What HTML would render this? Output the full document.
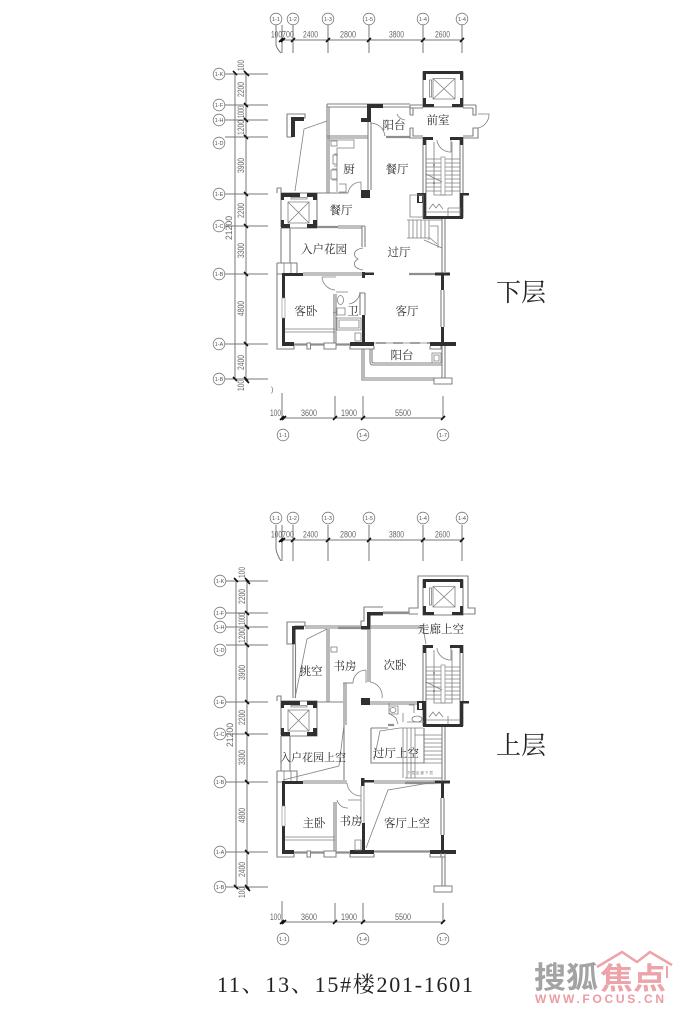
<!DOCTYPE html>
<html><head><meta charset="utf-8"><style>
html,body{margin:0;padding:0;background:#fff}
svg{display:block;filter:blur(.3px)}
.w{fill:#303030}
.g{fill:none;stroke:#808080;stroke-width:1.1}
.h{fill:none;stroke:#8e8e8e;stroke-width:2.2}
.t{fill:none;stroke:#808080;stroke-width:.8}
.o{fill:#fff;stroke:#808080;stroke-width:1}
.d{fill:none;stroke:#777;stroke-width:1}
.k{stroke:#111;stroke-width:1.6}
.b{fill:#fff;stroke:#777;stroke-width:.8}
text{font-family:"Liberation Sans","Noto Sans CJK SC",sans-serif}
.n{font-size:9px;fill:#666}
.c{font-size:5.5px;fill:#555;text-anchor:middle}
.r{font-family:"Noto Serif CJK SC","Noto Sans CJK SC",serif;font-size:11.5px;fill:#2c2c2c;text-anchor:middle}
.m{font-family:"Noto Serif CJK SC","Noto Sans CJK SC",serif;font-size:25px;fill:#222}
</style></head><body>
<svg width="693" height="1024" viewBox="0 0 693 1024" xmlns="http://www.w3.org/2000/svg">
<defs>
<g id="topElev">
<path class="g" d="M423 72H463V107H423Z"/>
<path class="w" d="M423 71H463V74H460V80H463V74H426V80H423Z"/>
<rect class="w" x="460" y="71" width="3" height="9"/>
<rect class="w" x="423" y="98" width="3" height="9"/><rect class="w" x="460" y="98" width="3" height="9"/>
<rect class="w" x="423" y="104" width="11" height="3"/><rect class="w" x="452" y="104" width="11" height="3"/>
<path class="t" d="M433 78.5H455V99H433ZM433 78.5L455 99M455 78.5L433 99"/>
<rect class="t" x="429.5" y="80" width="2" height="17"/>
</g>
<g id="stairs">
<path class="g" d="M423 137V218M426 140V216M460 140V216M463 137V218"/>
<rect class="w" x="423" y="137" width="10" height="3"/><rect class="w" x="450" y="137" width="13" height="3"/>
<rect class="w" x="423" y="137" width="3" height="8"/><rect class="w" x="460" y="137" width="3" height="8"/>
<rect class="w" x="423" y="193" width="3" height="26"/><rect class="w" x="460" y="193" width="3" height="26"/>
<rect class="w" x="423" y="216" width="40" height="3"/><rect class="w" x="460" y="193" width="9" height="2.5"/>
<path class="t" d="M426 159H460M426 163H460M426 167H460M426 171H460M426 175H460M426 179H460M426 183H460M426 187H460M426 191H460"/>
<rect x="441" y="157" width="4" height="38" fill="#fff" stroke="#888" stroke-width=".7"/>
<path class="t" d="M434 142V195H452V142M426 174L442 182"/>
<path class="t" d="M437 140V141A14 14 0 0 0 451 152V140"/>
<path class="t" d="M426 212H460M448 208V216M429 209L433 204L436 208L439 204L443 209"/>
<circle cx="434" cy="165" r=".8" fill="#444"/><circle cx="434" cy="183" r=".8" fill="#444"/>
</g>
<g id="leftElev">
<path class="g" d="M277 188H281V227M277 188V193M281 193H317V228H281"/>
<rect class="w" x="281" y="193" width="19" height="4"/><rect class="w" x="307" y="193" width="10" height="4"/>
<rect class="w" x="281" y="193" width="3" height="7"/><rect class="w" x="313" y="193" width="4" height="7"/>
<rect class="w" x="281" y="220" width="3" height="8"/><rect class="w" x="313" y="220" width="4" height="8"/>
<rect class="w" x="281" y="224" width="9" height="4"/><rect class="w" x="307" y="224" width="10" height="4"/>
<path class="t" d="M288 202H309V223H288ZM288 202L309 223M309 202L288 223M291 197.500H307V199H291Z"/>
<path class="g" d="M281 228V263M290 228V263M277 263H297V274H277"/>
<path class="t" d="M284 263V274M291 263V274"/>
</g>
<g id="shell">
<path class="g" d="M277 263V349H294V346M277 349H294"/>
<rect class="w" x="282" y="274" width="3" height="71"/><rect x="282" y="298" width="3" height="20" fill="#fff" stroke="#888" stroke-width=".6"/>
<rect class="w" x="282" y="273" width="21" height="3"/>
<rect class="w" x="282" y="342" width="12" height="4"/>
<path class="h" d="M294 344.500H350"/>
<rect class="o" x="307" y="343" width="3.500" height="6"/><rect class="o" x="324" y="343" width="12" height="6"/>
<rect class="w" x="350" y="342" width="24" height="4"/><path class="g" d="M350 346V349H374V346"/>
<rect class="w" x="362" y="315" width="3" height="28"/>
<rect class="w" x="430" y="342" width="26" height="4"/><path class="g" d="M430 346V349H441V346"/>
<rect class="w" x="441" y="275" width="3" height="15"/><rect class="w" x="441" y="327" width="3" height="16"/>
<path class="g" d="M441 290V327M444 290V327"/>
<rect class="w" x="435" y="272.500" width="15" height="3"/>
<path class="t" d="M285 329H335M285 332H335"/>
<path class="g" d="M334 343V294M336 343V294"/>
</g>
</defs>

<!-- ============ LOWER FLOOR ============ -->
<path class="d" d="M276 25V45Q277 49 281 53M282 25V53M293 25V53M328 25V53M369 25V53M423 25V53M462 25V53M281 40H462"/>
<path class="k" d="M279 42L283 38M281 42L285 38M291 42L295 38M326 42L330 38M367 42L371 38M421 42L425 38M460 42L464 38"/>
<circle class="b" cx="276" cy="19" r="5.800"/><circle class="b" cx="293" cy="19" r="5.800"/><circle class="b" cx="328" cy="19" r="5.800"/><circle class="b" cx="369" cy="19" r="5.800"/><circle class="b" cx="423" cy="19" r="5.800"/><circle class="b" cx="462" cy="19" r="5.800"/>
<text class="c" x="276" y="21">1-1</text><text class="c" x="293" y="21">1-2</text><text class="c" x="328" y="21">1-3</text><text class="c" x="369" y="21">1-5</text><text class="c" x="423" y="21">1-4</text><text class="c" x="462" y="21">1-4</text>
<text class="n" x="271" y="37.500" textLength="11" lengthAdjust="spacingAndGlyphs">100</text><text class="n" x="282" y="37.500" textLength="12" lengthAdjust="spacingAndGlyphs">700</text>
<text class="n" x="303" y="37.500" textLength="15" lengthAdjust="spacingAndGlyphs">2400</text><text class="n" x="340" y="37.500" textLength="16" lengthAdjust="spacingAndGlyphs">2800</text><text class="n" x="389" y="37.500" textLength="15" lengthAdjust="spacingAndGlyphs">3800</text><text class="n" x="435" y="37.500" textLength="15" lengthAdjust="spacingAndGlyphs">2600</text>
<path class="d" d="M235 72V379M246 72V379"/>
<path class="d" d="M225 74H268M225 105H268M225 120H268M225 137H268M225 194H268M225 226H268M225 274H268M225 344H268M225 379H268"/>
<path class="k" d="M233 71L237 75M244 71L248 75M245 72L249 76M244 103L248 107M244 118L248 122M244 135L248 139M244 192L248 196M244 224L248 228M244 272L248 276M244 342L248 346M233 377L237 381M244 377L248 381M245 379L249 383"/>
<circle class="b" cx="219" cy="74" r="5.800"/><circle class="b" cx="219" cy="105" r="5.800"/><circle class="b" cx="219" cy="120" r="5.800"/><circle class="b" cx="219" cy="143" r="5.800"/><circle class="b" cx="219" cy="194" r="5.800"/><circle class="b" cx="219" cy="226" r="5.800"/><circle class="b" cx="219" cy="274" r="5.800"/><circle class="b" cx="219" cy="344" r="5.800"/><circle class="b" cx="219" cy="379" r="5.800"/>
<text class="c" x="219" y="76">1-K</text><text class="c" x="219" y="107">1-F</text><text class="c" x="219" y="122">1-H</text><text class="c" x="219" y="145">1-D</text><text class="c" x="219" y="196">1-E</text><text class="c" x="219" y="228">1-C</text><text class="c" x="219" y="276">1-B</text><text class="c" x="219" y="346">1-A</text><text class="c" x="219" y="381">1-B</text>
<g class="n">
<text transform="translate(244,71) rotate(-90)" textLength="11" lengthAdjust="spacingAndGlyphs">100</text>
<text transform="translate(244,97) rotate(-90)" textLength="15" lengthAdjust="spacingAndGlyphs">2200</text>
<text transform="translate(244,118) rotate(-90)" textLength="12" lengthAdjust="spacingAndGlyphs">1000</text>
<text transform="translate(244,135) rotate(-90)" textLength="15" lengthAdjust="spacingAndGlyphs">1200</text>
<text transform="translate(244,173) rotate(-90)" textLength="15" lengthAdjust="spacingAndGlyphs">3900</text>
<text transform="translate(244,218) rotate(-90)" textLength="15" lengthAdjust="spacingAndGlyphs">2200</text>
<text transform="translate(232,240) rotate(-90)" textLength="24" lengthAdjust="spacingAndGlyphs">21200</text>
<text transform="translate(244,258) rotate(-90)" textLength="15" lengthAdjust="spacingAndGlyphs">3300</text>
<text transform="translate(244,316) rotate(-90)" textLength="15" lengthAdjust="spacingAndGlyphs">4800</text>
<text transform="translate(244,370) rotate(-90)" textLength="15" lengthAdjust="spacingAndGlyphs">2400</text>
<text transform="translate(244,391) rotate(-90)" textLength="11" lengthAdjust="spacingAndGlyphs">100</text>
</g>
<path class="d" d="M282 393V418M335 396V418M363 396V418M443 396V418M281 418H443"/>
<path class="k" d="M280 420L284 416M282 420L286 416M333 420L337 416M361 420L365 416M441 420L445 416"/>
<circle class="b" cx="283" cy="435" r="5.800"/><circle class="b" cx="363" cy="435" r="5.800"/><circle class="b" cx="443" cy="435" r="5.800"/>
<text class="c" x="283" y="437">1-1</text><text class="c" x="363" y="437">1-4</text><text class="c" x="443" y="437">1-7</text>
<text class="n" x="270" y="416" textLength="11" lengthAdjust="spacingAndGlyphs">100</text><text class="n" x="301" y="416" textLength="16" lengthAdjust="spacingAndGlyphs">3600</text><text class="n" x="341" y="416" textLength="16" lengthAdjust="spacingAndGlyphs">1900</text><text class="n" x="395" y="416" textLength="16" lengthAdjust="spacingAndGlyphs">5500</text>
<text x="271" y="392" font-size="7" fill="#666">)</text>

<use href="#topElev"/>
<path class="g" d="M410 105H423M463 105H476M410 108H423M463 108H473M410 105V115M413 108V115H410M473 108V115H476V105M410 128H413V136H423M410 128V138H423M463 136H473V128H478V138H463"/>
<path class="t" d="M478 114H489A14 14 0 0 1 478 128"/>
<path class="g" d="M327 104H410M327 107H367M383 107H410"/>
<path class="g" d="M327 104V193M329 107V193M327 136H368M327 138H368"/>
<rect class="w" x="367" y="104" width="16" height="4"/><rect class="w" x="367" y="104" width="4" height="18"/><rect class="w" x="361" y="118" width="10" height="4"/>
<path class="t" d="M397 114Q399 119 405 120M371 123Q383 124 385 136"/>
<path class="h" d="M386 137H410"/>
<path class="g" d="M287 114H305V118H292V137H287Z"/>
<rect class="w" x="291" y="117" width="13" height="4"/><rect class="w" x="291" y="117" width="4" height="20"/>
<path class="t" d="M327 121L304 129L295 191"/>
<path class="g" d="M368 122V190M371 122V190"/>
<rect class="w" x="361" y="190" width="9" height="8"/>
<path class="t" d="M348 193A13 13 0 0 1 361 182M361 182V190"/>
<path class="g" d="M317 193H348"/>
<path class="t" d="M329 140H354V148H337V192M338 155H337M334 154H337V166H334M332 169H337V180H332M339 184H346V192H339"/>
<rect class="t" x="331" y="141" width="6" height="5"/><rect class="t" x="333" y="155" width="4" height="9"/><rect class="t" x="331" y="170" width="6" height="9"/>
<use href="#stairs"/>
<rect class="w" x="417" y="193" width="6" height="10"/><rect x="419" y="196" width="3" height="6" fill="#fff"/>
<path class="t" d="M410 195H423V217H410ZM448 208H460V216"/>
<path class="t" d="M407 220H442M409 220V238M413 220V238M417 220V238M421 220V238M425 220V238M429 220V240M407 238H430L437 244M430 226H438V248M424 240L442 248"/>
<path class="g" d="M442 219V274M445 219V272"/>
<use href="#leftElev"/>
<path class="h" d="M317 227H338"/><path class="g" d="M338 226H365M338 228H362M362 226V247M365 226V247"/>
<path class="t" d="M363 248C352 250 353 256 358 259C353 262 352 268 363 270"/>
<use href="#shell"/>
<path class="g" d="M303 273H362M303 275H362"/>
<rect class="w" x="362" y="272" width="3" height="6"/><rect class="w" x="365" y="272.500" width="9" height="2.500"/>
<path class="h" d="M409 274H435"/>
<path class="g" d="M360 293H365M360 293V315M365 293V315"/>
<path class="t" d="M322 277H336M322 277A14 14 0 0 0 335 290M336 292H348M360 292A13 13 0 0 1 349 304"/>
<ellipse class="t" cx="340.500" cy="300" rx="3" ry="4.500"/><path class="t" d="M337 308H345V315H337ZM337 311.500L333 313"/><path class="t" d="M337 318H361V330H337ZM339 320H359V328H339ZM355 333H361V341H355Z"/>
<path class="t" d="M374 343H430"/><path d="M376 343H430" stroke="#444" stroke-width="1" stroke-dasharray="10 7" fill="none"/>
<path class="g" d="M370 349V362Q370 365 373 365H442M372 349V362Q372 363 374 363H441"/>
<path class="g" d="M362 349V380H434M364 349V378H434"/>
<rect class="o" x="434" y="378" width="18" height="6"/>
<path class="g" d="M442 346V378M445 346V378"/>
<path class="t" d="M432 353H441V363H432ZM434 355H439V361H434Z"/>

<text class="r" x="394" y="129">阳台</text><text class="r" x="438" y="124">前室</text><text class="r" x="349" y="173">厨</text><text class="r" x="397" y="173">餐厅</text><text class="r" x="341" y="214">餐厅</text><text class="r" x="324" y="253">入户花园</text><text class="r" x="399" y="256">过厅</text><text class="r" x="306" y="315">客卧</text><text class="r" x="353" y="315">卫</text><text class="r" x="407" y="315">客厅</text><text class="r" x="402" y="359">阳台</text>
<text class="m" x="496" y="301">下层</text>

<!-- ============ UPPER FLOOR ============ -->
<path class="d" d="M276 525V549Q277 555 281 561M282 525V561M293 525V561M328 525V561M369 525V561M423 525V561M462 525V561M281 540H462"/>
<path class="k" d="M279 542L283 538M281 542L285 538M291 542L295 538M326 542L330 538M367 542L371 538M421 542L425 538M460 542L464 538"/>
<circle class="b" cx="276" cy="518" r="5.800"/><circle class="b" cx="293" cy="518" r="5.800"/><circle class="b" cx="328" cy="518" r="5.800"/><circle class="b" cx="369" cy="518" r="5.800"/><circle class="b" cx="423" cy="518" r="5.800"/><circle class="b" cx="462" cy="518" r="5.800"/>
<text class="c" x="276" y="520">1-1</text><text class="c" x="293" y="520">1-2</text><text class="c" x="328" y="520">1-3</text><text class="c" x="369" y="520">1-5</text><text class="c" x="423" y="520">1-4</text><text class="c" x="462" y="520">1-4</text>
<text class="n" x="271" y="537.500" textLength="11" lengthAdjust="spacingAndGlyphs">100</text><text class="n" x="282" y="537.500" textLength="12" lengthAdjust="spacingAndGlyphs">700</text>
<text class="n" x="303" y="537.500" textLength="15" lengthAdjust="spacingAndGlyphs">2400</text><text class="n" x="340" y="537.500" textLength="16" lengthAdjust="spacingAndGlyphs">2800</text><text class="n" x="389" y="537.500" textLength="15" lengthAdjust="spacingAndGlyphs">3800</text><text class="n" x="435" y="537.500" textLength="15" lengthAdjust="spacingAndGlyphs">2600</text>
<path class="d" d="M236 579V887M247 579V887"/>
<path class="d" d="M226 581H268M226 613H268M226 627H268M226 645H268M226 702H268M226 734H268M226 782H268M226 852H268M226 887H268"/>
<path class="k" d="M234 578L238 582M245 578L249 582M246 580L250 584M245 611L249 615M245 625L249 629M245 643L249 647M245 700L249 704M245 732L249 736M245 780L249 784M245 850L249 854M234 885L238 889M245 885L249 889M246 887L250 891"/>
<circle class="b" cx="220" cy="581" r="5.800"/><circle class="b" cx="220" cy="613" r="5.800"/><circle class="b" cx="220" cy="627" r="5.800"/><circle class="b" cx="220" cy="650" r="5.800"/><circle class="b" cx="220" cy="702" r="5.800"/><circle class="b" cx="220" cy="734" r="5.800"/><circle class="b" cx="220" cy="782" r="5.800"/><circle class="b" cx="220" cy="852" r="5.800"/><circle class="b" cx="220" cy="887" r="5.800"/>
<text class="c" x="220" y="583">1-K</text><text class="c" x="220" y="615">1-F</text><text class="c" x="220" y="629">1-H</text><text class="c" x="220" y="652">1-D</text><text class="c" x="220" y="704">1-E</text><text class="c" x="220" y="736">1-C</text><text class="c" x="220" y="784">1-B</text><text class="c" x="220" y="854">1-A</text><text class="c" x="220" y="889">1-B</text>
<g class="n">
<text transform="translate(245,578) rotate(-90)" textLength="11" lengthAdjust="spacingAndGlyphs">100</text>
<text transform="translate(245,604) rotate(-90)" textLength="15" lengthAdjust="spacingAndGlyphs">2200</text>
<text transform="translate(245,625) rotate(-90)" textLength="12" lengthAdjust="spacingAndGlyphs">1000</text>
<text transform="translate(245,643) rotate(-90)" textLength="15" lengthAdjust="spacingAndGlyphs">1200</text>
<text transform="translate(245,680) rotate(-90)" textLength="15" lengthAdjust="spacingAndGlyphs">3900</text>
<text transform="translate(245,725) rotate(-90)" textLength="15" lengthAdjust="spacingAndGlyphs">2200</text>
<text transform="translate(233,747) rotate(-90)" textLength="24" lengthAdjust="spacingAndGlyphs">21200</text>
<text transform="translate(245,765) rotate(-90)" textLength="15" lengthAdjust="spacingAndGlyphs">3300</text>
<text transform="translate(245,823) rotate(-90)" textLength="15" lengthAdjust="spacingAndGlyphs">4800</text>
<text transform="translate(245,877) rotate(-90)" textLength="15" lengthAdjust="spacingAndGlyphs">2400</text>
<text transform="translate(245,898) rotate(-90)" textLength="11" lengthAdjust="spacingAndGlyphs">100</text>
</g>
<path class="d" d="M282 901V922M335 903V922M363 903V922M443 903V922M281 922H443"/>
<path class="k" d="M280 924L284 920M282 924L286 920M333 924L337 920M361 924L365 920M441 924L445 920"/>
<circle class="b" cx="283" cy="939" r="5.800"/><circle class="b" cx="363" cy="939" r="5.800"/><circle class="b" cx="443" cy="939" r="5.800"/>
<text class="c" x="283" y="941">1-1</text><text class="c" x="363" y="941">1-4</text><text class="c" x="443" y="941">1-7</text>
<text class="n" x="270" y="920" textLength="11" lengthAdjust="spacingAndGlyphs">100</text><text class="n" x="301" y="920" textLength="16" lengthAdjust="spacingAndGlyphs">3600</text><text class="n" x="341" y="920" textLength="16" lengthAdjust="spacingAndGlyphs">1900</text><text class="n" x="395" y="920" textLength="16" lengthAdjust="spacingAndGlyphs">5500</text>

<use href="#topElev" y="508"/>
<path class="g" d="M409 614V608H418V576H468V608H475V614H463M418 614H409"/>
<path class="g" d="M361 626V621H364V607H383M383 612H409"/><path class="h" d="M383 613H409"/>
<rect class="w" x="367" y="612" width="16" height="3.500"/><rect class="w" x="367" y="612" width="3.500" height="17"/><rect class="w" x="361" y="626" width="9" height="3.500"/>
<path class="g" d="M305 626H361M370 626H423M305 628H338M370 628H423"/><path class="h" d="M338 628H361"/>
<path class="g" d="M287 622H305V626H295V644H287Z"/>
<rect class="w" x="292" y="626" width="12" height="3.500"/><rect class="w" x="292" y="626" width="3.500" height="18"/>
<path class="t" d="M327 629L307 639L295 698M423 628L426 644"/>
<path class="g" d="M293 644V698M295.500 644V698M327 629V702M329 629V702M368 629V682M370 629V682"/>
<path class="t" d="M366 670A13 13 0 0 0 353 683M366 670V683M370 682A14 14 0 0 1 382 698"/>
<path class="g" d="M343 683H353M344 683V780M346 683V725"/>
<rect class="t" x="331" y="647" width="6" height="5"/>
<rect class="w" x="361" y="698" width="9" height="7"/>
<path class="g" d="M317 702H343M370 702H417M370 704H417"/>
<use href="#stairs" y="508"/>
<rect class="w" x="417" y="701" width="6" height="9"/><rect x="419" y="703" width="3" height="6" fill="#fff"/>
<path class="t" d="M389 703V713L396 718L398 724M389 706H398V714H389ZM409 705H414V713M407 722H424M403 713V722"/>
<ellipse class="t" cx="393" cy="710" rx="3" ry="2.500"/><ellipse class="t" cx="417" cy="719" rx="5" ry="3"/>
<use href="#leftElev" y="508"/>
<path class="g" d="M371 728H388M371 728V763H424V728"/><path class="h" d="M388 725H394"/>
<path class="t" d="M374 760L380 731L400 728H423"/>
<path class="t" d="M403 728V778M407 728V778M411 728V778M415 728V778M424 739H442M424 743H442M424 747H442M424 751H442M424 755H442M424 759H442M424 763H442M415 735H442V778H405"/>
<path class="g" d="M442 727V780M445 727V780"/>
<path class="t" d="M344 725L339 766L283 780"/>
<use href="#shell" y="508"/>
<path class="g" d="M303 781H347M303 783H347M374 781H435M374 783H405"/>
<path class="h" d="M405 783H435"/>
<rect class="w" x="361" y="778" width="3.500" height="8"/><rect class="w" x="364" y="780" width="10" height="2.500"/>
<path class="t" d="M347 783A14 14 0 0 0 361 796M361 786V823M364 786V823M348 800H361M337 800A11 11 0 0 0 348 808"/>
<path class="t" d="M435 782L388 790L366 848"/>
<path class="h" d="M374 851.500H430"/>
<path class="g" d="M442 857V886M445 857V886"/><rect class="o" x="434" y="886" width="18" height="6"/>
<path class="g" d="M441 853V857H445V853"/>
<path class="t" d="M355 840H361V850H355Z"/>

<text class="r" x="441" y="633">走廊上空</text><text class="r" x="395" y="669">次卧</text><text class="r" x="345" y="670">书房</text><text class="r" x="311" y="675">挑空</text>
<text class="r" x="313" y="761" style="font-size:11px">入户花园上空</text>
<text class="r" x="396" y="757">过厅上空</text><text class="r" x="314" y="827">主卧</text><text class="r" x="351" y="825">书房</text><text class="r" x="407" y="827">客厅上空</text>
<text x="407" y="774" font-size="3.500" fill="#777" textLength="26">下层走廊下层</text>
<text class="m" x="496" y="754">上层</text>

<text x="217" y="992" font-size="22" fill="#222" textLength="256" style="font-family:'Liberation Serif','Noto Serif CJK SC',serif">11、13、15#楼201-1601</text>
<text x="534" y="988" font-size="30" font-weight="700" fill="#a3a3a3" textLength="64" lengthAdjust="spacingAndGlyphs">搜狐</text>
<text x="600" y="989" font-size="30" font-weight="700" fill="#eca3a9" textLength="66" lengthAdjust="spacingAndGlyphs">焦点</text>
<path d="M597 967L622 952L637 962L650 952L672 965" fill="none" stroke="#eca3a9" stroke-width="2.500"/>
<path d="M667 966V978" fill="none" stroke="#eca3a9" stroke-width="2"/>
<text x="535" y="1003" font-size="12" font-weight="700" fill="#eb9ba3" textLength="129" lengthAdjust="spacing">WWW.FOCUS.CN</text>
</svg>
</body></html>
